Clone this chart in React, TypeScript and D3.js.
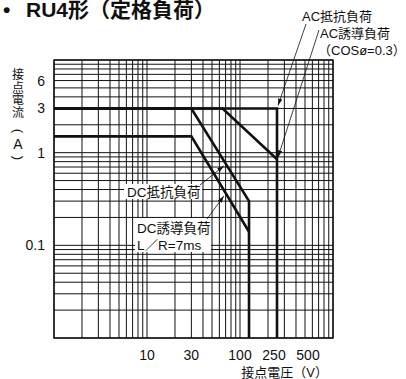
import * as d3 from "d3";

const WIDTH = 406;
const HEIGHT = 379;
const PLOT = { left: 54, right: 333, top: 60, bottom: 338 };
const FONT = "'Liberation Sans', 'Noto Sans CJK JP', sans-serif";

// axis domains and labelled ticks
const xDomain = [1, 1000];
const yDomain = [0.01, 10];
const xTicks = [10, 30, 100, 250, 500];
const yTicks = [0.1, 1, 3, 6];

// load curves: contact voltage (V) vs contact current (A)
const dcResistiveV = [1, 30, 125, 125];
const dcResistiveA = [3, 3, 0.3, 0.01];
const dcInductiveV = [1, 30, 125];
const dcInductiveA = [1.5, 1.5, 0.14];
const acResistiveV = [1, 250, 250];
const acResistiveA = [3, 3, 0.01];
const acInductiveV = [1, 65, 250];
const acInductiveA = [3, 3, 0.85];

const x = d3.scaleLog().domain(xDomain).range([PLOT.left, PLOT.right]);
const y = d3.scaleLog().domain(yDomain).range([PLOT.bottom, PLOT.top]);

// grid values: 1..9 per decade
const decadeGrid = (lo: number, hi: number) => {
  const out: number[] = [];
  for (let p = lo; p < hi; p++) {
    for (let k = 1; k <= 9; k++) out.push(k * Math.pow(10, p));
  }
  out.push(Math.pow(10, hi));
  return out;
};
const xGrid = decadeGrid(0, 3);
const yGrid = decadeGrid(-2, 1);

const line = d3
  .line<[number, number]>()
  .x((d) => x(d[0]))
  .y((d) => y(d[1]));

const zip = (vs: number[], as: number[]) =>
  vs.map((v, i) => [v, as[i]] as [number, number]);

const curves = [
  zip(acResistiveV, acResistiveA),
  zip(acInductiveV, acInductiveA),
  zip(dcResistiveV, dcResistiveA),
  zip(dcInductiveV, dcInductiveA),
];

// vertical axis title, one glyph per row (parens get rotated)
const yLabelChars = ["接", "点", "電", "流", "(", "A", ")"];
const yLabelRows = [75, 87.5, 100, 112.5, 131, 144, 158];

export default function App() {
  return (
    <svg
      width={WIDTH}
      height={HEIGHT}
      style={{ position: "absolute", left: 0, top: 0, background: "#fff" }}
      fontFamily={FONT}
    >
      <defs>
        <marker
          id="arr"
          markerUnits="userSpaceOnUse"
          markerWidth={8}
          markerHeight={5}
          refX={7}
          refY={2.2}
          orient="auto"
        >
          <path d="M0,0L7,2.2L0,4.4Z" fill="#111" />
        </marker>
      </defs>

      {/* title */}
      <g fontSize={21} fontWeight="bold" fill="#111">
        <text x={3} y={17}>•</text>
        <text x={26} y={17}>RU4形（定格負荷）</text>
      </g>

      {/* grid */}
      <g stroke="#111" strokeWidth={1}>
        {xGrid.map((v, i) => (
          <line key={"x" + i} x1={x(v)} x2={x(v)} y1={PLOT.top} y2={PLOT.bottom} />
        ))}
        {yGrid.map((v, i) => (
          <line key={"y" + i} x1={PLOT.left} x2={PLOT.right} y1={y(v)} y2={y(v)} />
        ))}
      </g>
      <rect
        x={PLOT.left}
        y={PLOT.top}
        width={PLOT.right - PLOT.left}
        height={PLOT.bottom - PLOT.top}
        fill="none"
        stroke="#111"
        strokeWidth={1.4}
      />

      {/* curves */}
      <g fill="none" stroke="#111" strokeWidth={2.6} strokeLinejoin="miter">
        {curves.map((c, i) => (
          <path key={i} d={line(c) || ""} />
        ))}
      </g>

      {/* y tick labels */}
      <g fontSize={14} textAnchor="end" fill="#111">
        {yTicks.map((v) => (
          <text key={v} x={45} y={y(v) + 5}>
            {v}
          </text>
        ))}
      </g>
      {/* x tick labels */}
      <g fontSize={14} textAnchor="middle" fill="#111">
        {xTicks.map((v) => (
          <text key={v} x={x(v) + (v === 250 ? -3 : v === 500 ? 3 : 0)} y={360}>
            {v}
          </text>
        ))}
      </g>

      {/* axis titles */}
      <g textAnchor="middle" dominantBaseline="central" fill="#111">
        {yLabelChars.map((c, i) => (
          <text
            key={i}
            x={18}
            y={yLabelRows[i]}
            fontSize={c === "(" || c === ")" ? 13 : c === "A" ? 14 : 12}
            transform={
              c === "(" || c === ")" ? `rotate(90 18 ${yLabelRows[i]})` : undefined
            }
          >
            {c}
          </text>
        ))}
      </g>
      <text x={328} y={377} fontSize={13} textAnchor="end" fill="#111">
        接点電圧（V）
      </text>

      {/* AC annotations */}
      <g fontSize={13} fill="#111">
        <text x={302} y={21}>AC抵抗負荷</text>
        <text x={320} y={38}>AC誘導負荷</text>
        <text x={318} y={55}>（COSø=0.3）</text>
      </g>
      <g stroke="#111" strokeWidth={0.8} markerEnd="url(#arr)">
        <line x1={306} y1={24} x2={x(250) + 1} y2={y(3) - 3} />
        <line x1={319} y1={30} x2={x(250) + 1} y2={y(acInductiveA[2]) - 2} />
      </g>

      {/* DC annotations */}
      <rect x={124} y={184} width={78} height={15} fill="#fff" />
      <rect x={135} y={218} width={76} height={34} fill="#fff" />
      <g fontSize={13.5} fill="#111">
        <text x={127} y={197}>DC抵抗負荷</text>
        <text x={137} y={233}>DC誘導負荷</text>
        <text x={137} y={250}>L／R=7ms</text>
      </g>
      <g stroke="#111" strokeWidth={0.8} markerEnd="url(#arr)">
        <line x1={200} y1={185} x2={x(67)} y2={y(0.72)} />
        <line x1={207} y1={219} x2={x(67)} y2={y(0.34)} />
      </g>
    </svg>
  );
}
